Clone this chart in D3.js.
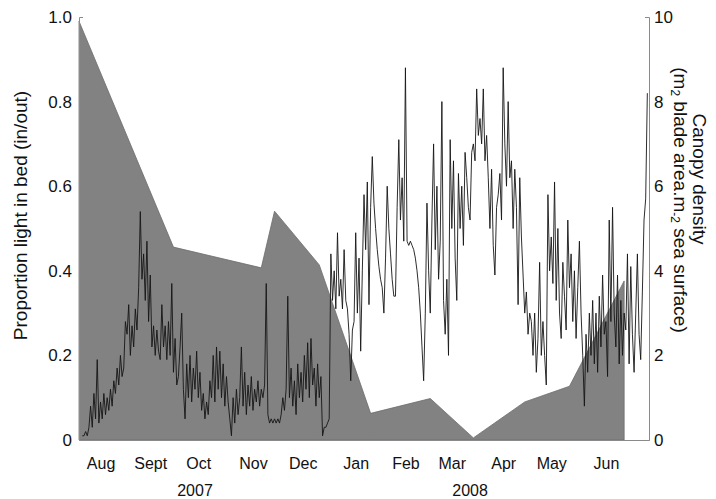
<!DOCTYPE html>
<html><head><meta charset="utf-8">
<script src="https://cdn.jsdelivr.net/npm/d3@7"></script>
<style>
body{margin:0;background:#fff}
svg{display:block}
text{font-family:"Liberation Sans",Arial,Helvetica,sans-serif;fill:#111}
</style>
</head><body><svg id="chart" width="716" height="499"></svg>
<script>
// ---- Data ----
// Daily proportion of light reaching the bed (in/out), left axis
const lightAug07 = [0.01,0.01,0.02,0.01,0.03,0.08,0.03,0.11,0.05,0.19,0.04,0.09,0.05,0.11,0.06,0.1,0.07,0.12,0.08,0.14,0.11,0.17,0.13,0.2,0.15,0.17,0.28,0.25];
const lightSep07 = [0.32,0.2,0.27,0.22,0.31,0.26,0.36,0.54,0.38,0.44,0.33,0.47,0.28,0.39,0.22,0.27,0.2,0.26,0.21,0.19,0.32,0.22,0.27,0.19,0.28,0.2,0.37,0.16,0.24,0.13];
const lightOct07 = [0.15,0.22,0.3,0.12,0.05,0.18,0.1,0.2,0.09,0.17,0.12,0.21,0.1,0.16,0.07,0.11,0.05,0.09,0.06,0.14,0.1,0.2,0.09,0.22,0.12,0.21,0.1,0.18,0.08,0.15,0.09];
const lightNov07 = [0.05,0.01,0.1,0.04,0.12,0.06,0.1,0.22,0.08,0.16,0.06,0.13,0.08,0.15,0.07,0.12,0.09,0.14,0.08,0.12,0.1,0.13,0.37,0.06,0.04,0.05,0.04,0.05,0.04,0.05];
const lightDec07 = [0.04,0.06,0.1,0.07,0.12,0.34,0.1,0.17,0.08,0.14,0.06,0.18,0.1,0.16,0.09,0.2,0.12,0.23,0.1,0.24,0.13,0.17,0.08,0.18,0.1,0.15,0.01,0.03,0.03,0.04,0.05];
const lightJan08 = [0.44,0.33,0.4,0.31,0.49,0.34,0.38,0.31,0.45,0.33,0.31,0.25,0.14,0.26,0.28,0.49,0.3,0.43,0.21,0.4,0.58,0.45,0.61,0.32,0.55,0.67,0.56,0.5,0.45,0.41,0.38];
const lightFeb08 = [0.36,0.3,0.43,0.6,0.5,0.44,0.38,0.34,0.34,0.55,0.71,0.52,0.62,0.47,0.88,0.47,0.46,0.47,0.46,0.45,0.43,0.4,0.36,0.3,0.22,0.14,0.3,0.56,0.4];
const lightMar08 = [0.3,0.52,0.7,0.45,0.6,0.38,0.47,0.8,0.33,0.25,0.38,0.2,0.71,0.5,0.66,0.43,0.33,0.63,0.5,0.6,0.46,0.68,0.62,0.55,0.52,0.68,0.7,0.66,0.83,0.72,0.76];
const lightApr08 = [0.7,0.83,0.66,0.72,0.62,0.5,0.64,0.46,0.39,0.55,0.58,0.63,0.52,0.88,0.7,0.6,0.8,0.62,0.66,0.5,0.64,0.55,0.32,0.62,0.48,0.39,0.3,0.35,0.25,0.3];
const lightMay08 = [0.28,0.2,0.3,0.16,0.24,0.42,0.2,0.28,0.2,0.13,0.58,0.4,0.48,0.37,0.61,0.33,0.5,0.3,0.24,0.42,0.34,0.26,0.52,0.36,0.44,0.28,0.4,0.24,0.36,0.47,0.3];
const lightJun08 = [0.2,0.08,0.25,0.16,0.3,0.2,0.33,0.18,0.3,0.16,0.34,0.22,0.39,0.25,0.28,0.15,0.52,0.28,0.55,0.3,0.22,0.39,0.18,0.33,0.2,0.3,0.26,0.44,0.18,0.41];
const lightJul08 = [0.25,0.16,0.3,0.44,0.25,0.19,0.35,0.52,0.57,0.82];
const lightSegmentStarts = ["2007-08-04","2007-09-01","2007-10-01","2007-11-01","2007-12-01","2008-01-01","2008-02-01","2008-03-01","2008-04-01","2008-05-01","2008-06-01","2008-07-01"];
const lightSegments = [lightAug07,lightSep07,lightOct07,lightNov07,lightDec07,lightJan08,lightFeb08,lightMar08,lightApr08,lightMay08,lightJun08,lightJul08];

// Canopy density (m2 blade area per m2 sea surface), right axis
const canopyDates  = ["2007-08-02","2007-09-28","2007-11-20","2007-11-28","2007-12-25","2008-01-25","2008-03-01","2008-03-27","2008-04-27","2008-05-24","2008-06-26","2008-06-26"];
const canopyValues = [9.9,4.56,4.07,5.41,4.14,0.63,0.98,0.05,0.9,1.27,3.76,0];

const monthLabels = ["Aug","Sept","Oct","Nov","Dec","Jan","Feb","Mar","Apr","May","Jun"];
const monthLabelDates = ["2007-08-15","2007-09-14","2007-10-13","2007-11-15","2007-12-15","2008-01-16","2008-02-15","2008-03-14","2008-04-14","2008-05-13","2008-06-15"];
const yearLabels = ["2007","2008"];
const yearLabelDates = ["2007-10-11","2008-03-25"];
const leftTicks = [0,0.2,0.4,0.6,0.8,1.0];
const rightTicks = [0,2,4,6,8,10];
const xDomain = ["2007-08-02","2008-07-11"];

// ---- Build ----
const parse = d3.utcParse("%Y-%m-%d");
const light = [];
lightSegments.forEach((vals, k) => {
  const s = parse(lightSegmentStarts[k]);
  vals.forEach((v, i) => light.push({date: d3.utcDay.offset(s, i), value: v}));
});
const canopy = canopyDates.map((d, i) => ({date: parse(d), value: canopyValues[i]}));

const svg = d3.select("#chart");
const x = d3.scaleUtc().domain(xDomain.map(parse)).range([79, 649]);
const yL = d3.scaleLinear().domain([0, 1]).range([440, 17]);
const yR = d3.scaleLinear().domain([0, 10]).range([440, 17]);

// canopy area
svg.append("path")
  .datum(canopy)
  .attr("d", d3.area().x(d => x(d.date)).y0(yR(0)).y1(d => yR(d.value)))
  .attr("fill", "#828282")
  .attr("stroke", "#6c6c6c")
  .attr("stroke-width", 0.8);

// light line
svg.append("path")
  .datum(light)
  .attr("d", d3.line().x(d => x(d.date)).y(d => yL(d.value)))
  .attr("fill", "none")
  .attr("stroke", "#151515")
  .attr("stroke-width", 0.9)
  .attr("stroke-linejoin", "round");

// axes
const fmtL = d => d === 0 ? "0" : d3.format(".1f")(d);
const gL = svg.append("g").attr("transform", "translate(79,0)")
  .call(d3.axisLeft(yL).tickValues(leftTicks).tickFormat(fmtL).tickSize(0).tickSizeOuter(-4).tickPadding(7));
const gR = svg.append("g").attr("transform", "translate(649,0)")
  .call(d3.axisRight(yR).tickValues(rightTicks).tickSize(0).tickSizeOuter(-4).tickPadding(5));
const gB = svg.append("g").attr("transform", "translate(0,440)")
  .call(d3.axisBottom(x).tickValues(monthLabelDates.map(parse)).tickFormat((d, i) => monthLabels[i]).tickSize(0).tickSizeOuter(0).tickPadding(18));

[gL, gR, gB].forEach(g => {
  g.select(".domain").attr("stroke", "#8a8a8a").attr("stroke-width", 1);
  g.selectAll("text").attr("fill", "#111").style("font-family", '"Liberation Sans",Arial,sans-serif');
});
gL.selectAll("text").style("font-size", "17px");
gR.selectAll("text").style("font-size", "17px");
gB.selectAll("text").style("font-size", "16px");

// year labels
svg.selectAll(".year").data(yearLabels).enter().append("text")
  .attr("class", "year")
  .attr("x", (d, i) => x(parse(yearLabelDates[i])))
  .attr("y", 496)
  .attr("text-anchor", "middle")
  .style("font-size", "16px")
  .text(d => d);

// left title
svg.append("text")
  .attr("transform", "translate(20.5,215.5) rotate(-90)")
  .attr("text-anchor", "middle")
  .attr("dy", "0.35em")
  .style("font-size", "19px")
  .text("Proportion light in bed (in/out)");

// right title
svg.append("text")
  .attr("transform", "translate(699.5,179) rotate(90)")
  .attr("text-anchor", "middle")
  .attr("dy", "0.35em")
  .style("font-size", "19px")
  .text("Canopy density");

const t2 = svg.append("text")
  .attr("transform", "translate(681,200) rotate(90)")
  .attr("text-anchor", "middle")
  .attr("dy", "0.35em")
  .style("font-size", "19px");
t2.append("tspan").text("(m");
t2.append("tspan").attr("dy", "3").style("font-size", "12px").text("2");
t2.append("tspan").attr("dy", "-3").text(" blade area.m");
t2.append("tspan").attr("dy", "3").style("font-size", "12px").text("-2");
t2.append("tspan").attr("dy", "-3").text(" sea surface)");
</script>
</body></html>
